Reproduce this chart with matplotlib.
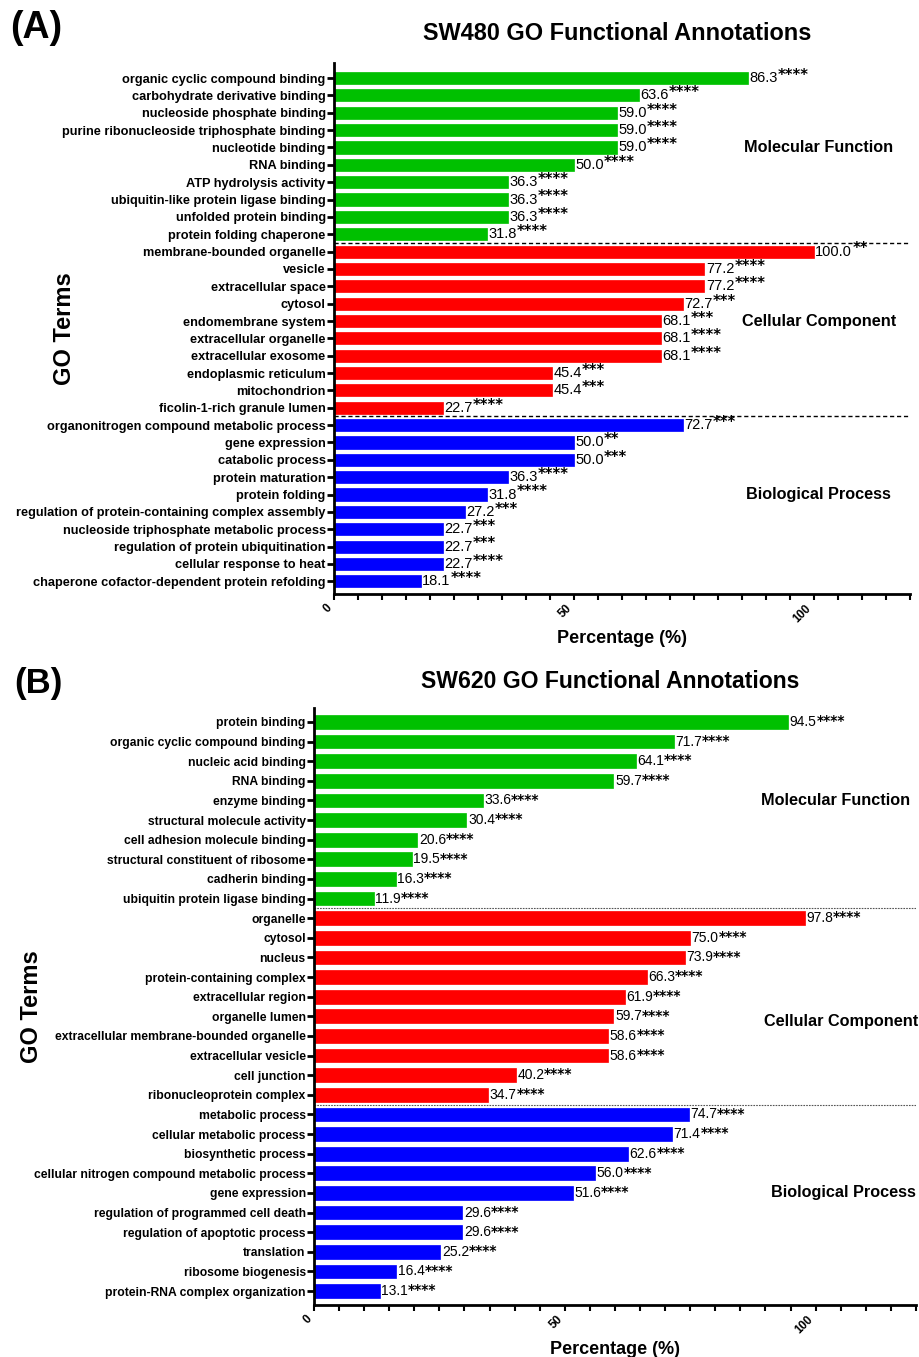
import numpy as np
import matplotlib.pyplot as plt

plt.rcParams['font.family'] = ['Liberation Sans', 'DejaVu Sans']

# ---- data: SW480 ----
a_terms = ['organic cyclic compound binding', 'carbohydrate derivative binding',
           'nucleoside phosphate binding', 'purine ribonucleoside triphosphate binding',
           'nucleotide binding', 'RNA binding', 'ATP hydrolysis activity',
           'ubiquitin-like protein ligase binding', 'unfolded protein binding',
           'protein folding chaperone',
           'membrane-bounded organelle', 'vesicle', 'extracellular space', 'cytosol',
           'endomembrane system', 'extracellular organelle', 'extracellular exosome',
           'endoplasmic reticulum', 'mitochondrion', 'ficolin-1-rich granule lumen',
           'organonitrogen compound metabolic process', 'gene expression',
           'catabolic process', 'protein maturation', 'protein folding',
           'regulation of protein-containing complex assembly',
           'nucleoside triphosphate metabolic process',
           'regulation of protein ubiquitination', 'cellular response to heat',
           'chaperone cofactor-dependent protein refolding']
a_vals = [86.3, 63.6, 59.0, 59.0, 59.0, 50.0, 36.3, 36.3, 36.3, 31.8,
          100.0, 77.2, 77.2, 72.7, 68.1, 68.1, 68.1, 45.4, 45.4, 22.7,
          72.7, 50.0, 50.0, 36.3, 31.8, 27.2, 22.7, 22.7, 22.7, 18.1]
a_sig = ['****'] * 10 + \
        ['**', '****', '****', '***', '***', '****', '****', '***', '***', '****'] + \
        ['***', '**', '***', '****', '****', '***', '***', '***', '****', '****']

# ---- data: SW620 ----
b_terms = ['protein binding', 'organic cyclic compound binding', 'nucleic acid binding',
           'RNA binding', 'enzyme binding', 'structural molecule activity',
           'cell adhesion molecule binding', 'structural constituent of ribosome',
           'cadherin binding', 'ubiquitin protein ligase binding',
           'organelle', 'cytosol', 'nucleus', 'protein-containing complex',
           'extracellular region', 'organelle lumen',
           'extracellular membrane-bounded organelle', 'extracellular vesicle',
           'cell junction', 'ribonucleoprotein complex',
           'metabolic process', 'cellular metabolic process', 'biosynthetic process',
           'cellular nitrogen compound metabolic process', 'gene expression',
           'regulation of programmed cell death', 'regulation of apoptotic process',
           'translation', 'ribosome biogenesis', 'protein-RNA complex organization']
b_vals = [94.5, 71.7, 64.1, 59.7, 33.6, 30.4, 20.6, 19.5, 16.3, 11.9,
          97.8, 75.0, 73.9, 66.3, 61.9, 59.7, 58.6, 58.6, 40.2, 34.7,
          74.7, 71.4, 62.6, 56.0, 51.6, 29.6, 29.6, 25.2, 16.4, 13.1]
b_sig = ['****'] * 30

groups = ['Molecular Function', 'Cellular Component', 'Biological Process']
colors = ['#00C000', '#FF0000', '#0000FF']

fig = plt.figure(figsize=(9.2, 13.57), dpi=100)


def panel(ax, terms, vals, sig, lab_size, val_size, grp_size, grp_pos, sep_style, star_up):
    n = len(terms)
    y = np.arange(n)[::-1]
    cols = [colors[i // 10] for i in range(n)]
    ax.barh(y, vals, height=0.7, color=cols, edgecolor=cols, linewidth=0.5)
    for yi, v, s in zip(y, vals, sig):
        t = ax.text(v + 0.3, yi, f'{v:.1f}', va='center', ha='left', fontsize=val_size)
        ax.annotate(s, xy=(1, star_up), xycoords=t, va='bottom', ha='left',
                    fontsize=val_size, fontweight='bold', family='DejaVu Sans',
                    xytext=(0, 0), textcoords='offset points')
    for k in (1, 2):
        if sep_style == 'dash':
            ax.axhline(n - 10 * k - 0.5, color='black', lw=1.0, ls=(0, (3, 2)))
        else:
            ax.axhline(n - 10 * k - 0.5, color='#555555', lw=0.8, ls=(0, (1.5, 1)))
    for g, (gx, gi) in zip(groups, grp_pos):
        ax.text(gx, n - 1 - gi, g, ha='center', va='center', fontsize=grp_size,
                fontweight='bold')
    ax.set_yticks(y)
    ax.set_yticklabels(terms, fontsize=lab_size, fontweight='bold')
    ax.set_xlim(0, 120)
    ax.set_xticks([0, 50, 100])
    ax.set_xticks(np.arange(0, 121, 5), minor=True)
    ax.set_xticklabels(['0', '50', '100'], rotation=45, ha='right', va='top',
                       fontsize=8.5, fontweight='bold')
    ax.spines['top'].set_visible(False)
    ax.spines['right'].set_visible(False)
    ax.spines['left'].set_linewidth(2)
    ax.spines['bottom'].set_linewidth(2)
    ax.tick_params(axis='y', length=5, width=2, pad=1)
    ax.tick_params(axis='x', which='both', length=4, width=1.5, pad=2)
    ax.set_xlabel('Percentage (%)', fontsize=13, fontweight='bold', labelpad=4)
    ax.set_ylabel('GO Terms', fontsize=17, fontweight='bold')


ax1 = fig.add_axes([0.3630, 0.5623, 0.626, 0.3913])
panel(ax1, a_terms, a_vals, a_sig, 9.2, 10.5, 11.7,
      [(101, 4), (101, 14), (101, 24)], 'dash', 0.15)
ax1.set_ylim(-0.73, 29.87)
ax1.yaxis.set_label_coords(-0.448, 0.5)

ax2 = fig.add_axes([0.3413, 0.0383, 0.6543, 0.440])
panel(ax2, b_terms, b_vals, b_sig, 8.7, 10, 11.7,
      [(104, 4), (105, 15.25), (105.6, 24)], 'dot', 0.05)
ax2.set_ylim(-0.71, 29.71)
ax2.yaxis.set_label_coords(-0.45, 0.5)

fig.text(617 / 920, 1 - 33 / 1357, 'SW480 GO Functional Annotations', ha='center', va='center',
         fontsize=16.9, fontweight='bold')
fig.text(610 / 920, 1 - 682 / 1357, 'SW620 GO Functional Annotations', ha='center', va='center',
         fontsize=16.6, fontweight='bold')
fig.text(10 / 920, 1 - 28 / 1357, '(A)', ha='left', va='center', fontsize=27, fontweight='bold')
fig.text(14 / 920, 1 - 683 / 1357, '(B)', ha='left', va='center', fontsize=25, fontweight='bold')

fig.savefig('out.png', dpi=100)
